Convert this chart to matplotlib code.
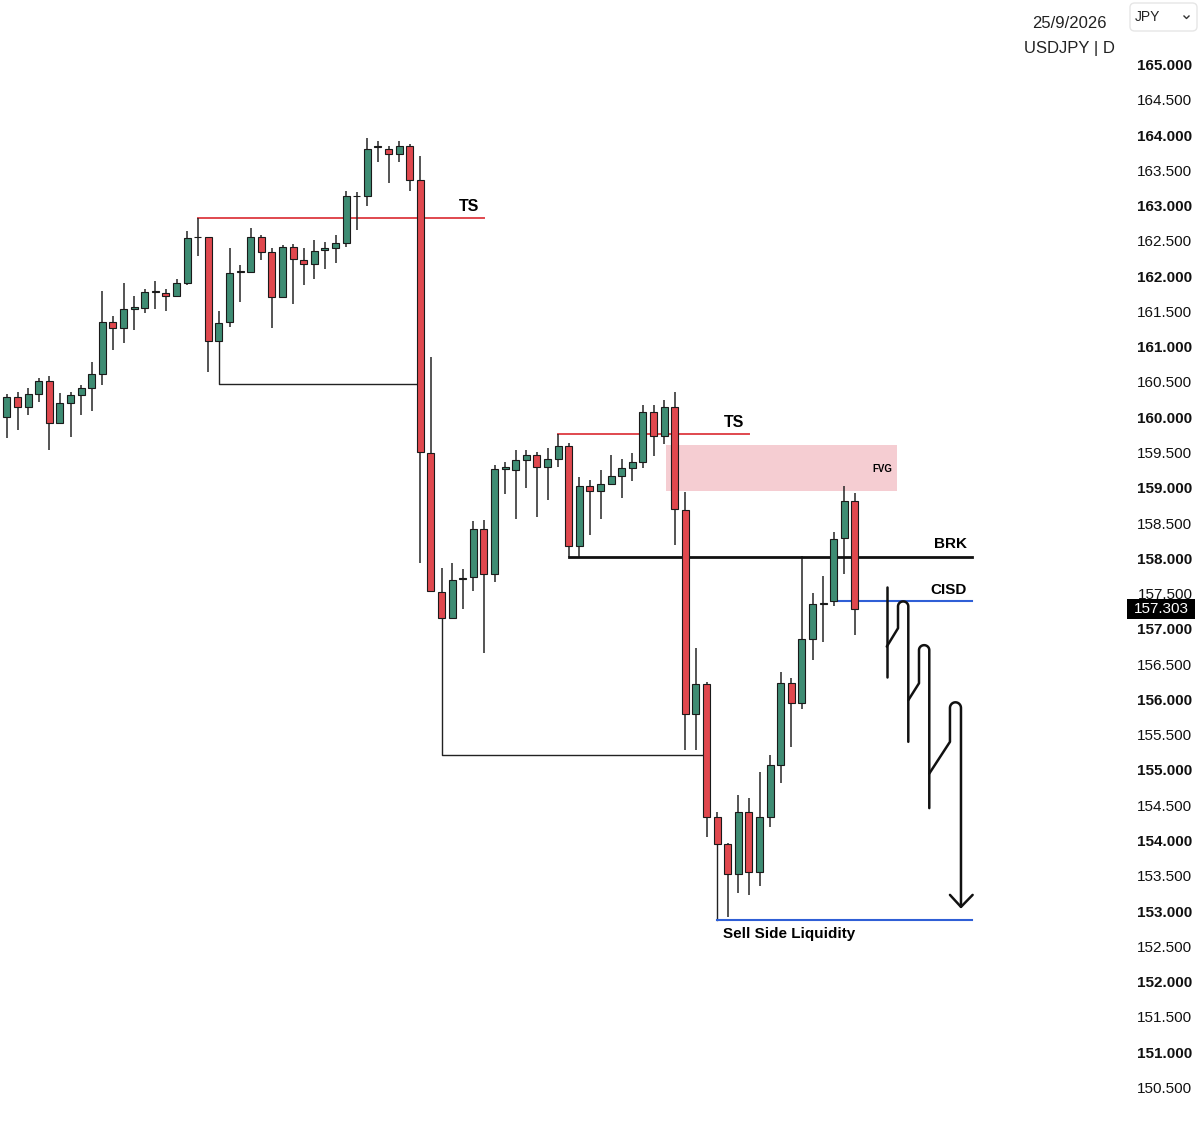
import numpy as np
import matplotlib
matplotlib.use('Agg')
import matplotlib.pyplot as plt
from matplotlib.patches import Rectangle, FancyBboxPatch
from matplotlib.lines import Line2D
from matplotlib.transforms import blended_transform_factory

plt.rcParams['font.family'] = ['Liberation Sans', 'DejaVu Sans']

# USDJPY daily candles
opens = [160.02, 160.31, 160.17, 160.35, 160.54, 159.94, 160.22, 160.33, 160.44, 160.64,
         161.37, 161.28, 161.56, 161.57, 161.79, 161.78, 161.74, 161.92, 162.57, 162.57,
         161.10, 161.37, 162.08, 162.08, 162.58, 162.36, 161.72, 162.44, 162.25, 162.19,
         162.39, 162.42, 162.49, 163.15, 163.15, 163.85, 163.83, 163.75, 163.86, 163.39,
         159.52, 157.54, 157.17, 157.73, 157.75, 158.43, 157.80, 159.29, 159.27, 159.42,
         159.48, 159.31, 159.43, 159.61, 158.19, 159.05, 158.98, 159.08, 159.19, 159.30,
         159.38, 160.10, 159.75, 160.16, 158.71, 155.81, 156.24, 154.35, 153.97, 153.54,
         154.42, 153.58, 154.35, 155.09, 156.25, 155.97, 156.88, 157.37, 157.41, 158.31,
         158.84]
highs = [160.35, 160.38, 160.44, 160.57, 160.60, 160.37, 160.38, 160.48, 160.80, 161.81,
         161.45, 161.92, 161.74, 161.84, 161.95, 161.84, 161.98, 162.66, 162.84, 162.58,
         161.52, 162.42, 162.18, 162.70, 162.61, 162.42, 162.46, 162.47, 162.42, 162.54,
         162.51, 162.61, 163.23, 163.22, 163.98, 163.94, 163.86, 163.94, 163.89, 163.73,
         160.88, 157.88, 157.96, 157.87, 158.55, 158.57, 159.35, 159.39, 159.55, 159.56,
         159.53, 159.59, 159.79, 159.65, 159.17, 159.13, 159.27, 159.48, 159.43, 159.52,
         160.19, 160.19, 160.27, 160.38, 158.96, 156.75, 156.27, 154.42, 153.99, 154.67,
         154.62, 154.99, 155.23, 156.41, 156.32, 158.05, 157.53, 157.77, 158.40, 159.04,
         158.95]
lows = [159.73, 159.84, 160.05, 160.24, 159.55, 159.93, 159.74, 160.05, 160.11, 160.48,
        160.98, 161.08, 161.26, 161.50, 161.55, 161.53, 161.72, 161.90, 162.30, 160.66,
        161.10, 161.30, 161.66, 162.07, 162.25, 161.29, 161.71, 161.62, 161.90, 161.98,
        162.12, 162.20, 162.43, 162.68, 163.01, 163.64, 163.34, 163.64, 163.23, 157.96,
        157.55, 157.17, 157.17, 157.30, 157.56, 156.68, 157.69, 158.93, 158.58, 159.02,
        158.60, 158.85, 159.31, 158.04, 158.02, 158.35, 158.58, 159.06, 158.88, 159.12,
        159.30, 159.47, 159.64, 158.21, 155.30, 155.30, 154.07, 153.97, 152.93, 153.28,
        153.25, 153.38, 154.21, 154.84, 155.34, 155.88, 156.58, 156.83, 157.34, 157.80,
        156.94]
closes = [160.31, 160.17, 160.35, 160.54, 159.94, 160.22, 160.33, 160.44, 160.64, 161.37,
          161.28, 161.55, 161.58, 161.79, 161.81, 161.74, 161.92, 162.56, 162.58, 161.10,
          161.36, 162.07, 162.10, 162.58, 162.37, 161.72, 162.44, 162.26, 162.19, 162.38,
          162.42, 162.49, 163.16, 163.16, 163.83, 163.86, 163.75, 163.86, 163.39, 159.53,
          157.56, 157.17, 157.72, 157.74, 158.43, 157.80, 159.29, 159.31, 159.42, 159.48,
          159.31, 159.43, 159.61, 158.19, 159.05, 158.98, 159.08, 159.19, 159.30, 159.38,
          160.10, 159.75, 160.16, 158.72, 155.81, 156.24, 154.35, 153.97, 153.54, 154.42,
          153.58, 154.35, 155.09, 156.25, 155.97, 156.88, 157.37, 157.39, 158.29, 158.84,
          157.303]

price_ticks = [165.0 - 0.5 * k for k in range(30)]
last_price = 157.303

# markup levels: (start bar, end bar, price)
ts_lines = [(18, 45, 162.84), (52, 70, 159.79)]
brk_level = (53, 91.04, 158.045)
cisd_level = (78, 91.04, 157.41)
ssl_level = (67, 91.04, 152.895)
fvg_zone = (62.17, 83.96, 158.975, 159.63)
# L shaped liquidity lines: (bar, from price, down to price, end bar)
liq_lines = [(20, 161.10, 160.49, 38.65), (41, 157.17, 155.235, 65.65)]

green = '#3e8c73'
red = '#e0484e'
blue = '#2f5fd6'

fig = plt.figure(figsize=(12, 11.27), dpi=100)
ax = fig.add_axes([0, 0, 1, 1])
ax.set_xlim(-0.66, 112.55)
ax.set_ylim(149.96, 165.935)
ax.axis('off')

o = np.array(opens)
h = np.array(highs)
l = np.array(lows)
c = np.array(closes)
idx = np.arange(len(o))
cols = np.where(c >= o, green, red)

ax.vlines(idx, l, h, color='#262626', lw=1.1, zorder=2)
ax.bar(idx, np.maximum(np.abs(c - o), 0.012), bottom=np.minimum(o, c), width=0.66,
       color=cols, edgecolor='#1a1a1a', linewidth=0.8, zorder=3)

# FVG box
ax.add_patch(Rectangle((fvg_zone[0], fvg_zone[2]), fvg_zone[1] - fvg_zone[0],
                       fvg_zone[3] - fvg_zone[2], facecolor='#f5cdd2', edgecolor='none', zorder=1))
ax.text(82.55, 159.29, 'FVG', fontsize=7, fontweight='bold', ha='center', va='center', zorder=5)

# TS lines
for x0, x1, p in ts_lines:
    ax.plot([x0, x1], [p, p], color=red, lw=1.4, zorder=1.5)
ax.text(43.6, 163.01, 'TS', fontsize=11.5, fontweight='bold', ha='center', va='center')
ax.text(68.6, 159.95, 'TS', fontsize=11.5, fontweight='bold', ha='center', va='center')

# liquidity L lines
for xb, p0, p1, xe in liq_lines:
    ax.plot([xb, xb, xe], [p0, p1, p1], color='#222222', lw=1.0, zorder=1.5)
ax.plot([67, 67], [153.97, ssl_level[2]], color='#222222', lw=1.0, zorder=1.5)

# BRK / CISD / SSL
ax.plot(brk_level[:2], [brk_level[2]] * 2, color='#111111', lw=2.0, zorder=2.5)
ax.plot(cisd_level[:2], [cisd_level[2]] * 2, color=blue, lw=1.5, zorder=2.5)
ax.plot(ssl_level[:2], [ssl_level[2]] * 2, color=blue, lw=1.5, zorder=2.5)
ax.text(90.57, 158.225, 'BRK', fontsize=11, fontweight='bold', ha='right', va='center')
ax.text(90.57, 157.573, 'CISD', fontsize=11, fontweight='bold', ha='right', va='center')
ax.text(67.55, 152.70, 'Sell Side Liquidity', fontsize=11, fontweight='bold', ha='left', va='center')

# projected path drawing
def hump(xl, xr, base, top):
    t = np.linspace(np.pi, 0, 20)
    xc = (xl + xr) / 2
    return xc + (xr - xl) / 2 * np.cos(t), base + (top - base) * np.sin(t)

legs = [
    # diag start, diag end / hump left, hump base, hump top, hump right, end price
    ((83.0, 156.77), (84.06, 157.03), 157.34, 157.41, 85.03, 155.42),
    ((85.03, 156.01), (86.04, 156.25), 156.72, 156.79, 87.01, 154.48),
    ((87.01, 154.97), (88.96, 155.42), 155.90, 155.98, 90.0, 153.08),
]
pen = dict(color='#111111', lw=1.8, solid_capstyle='round', solid_joinstyle='round', zorder=4)
ax.plot([83.0, 83.0], [157.62, 156.34], **pen)
for (sx, sy), (dx, dy), base, top, rx, endp in legs:
    hx, hy = hump(dx, rx, base, top)
    xs = np.concatenate([[sx, dx], hx, [rx]])
    ys = np.concatenate([[sy, dy], hy, [endp]])
    ax.plot(xs, ys, **pen)
ax.plot([88.96, 90.0, 91.1], [153.25, 153.08, 153.25], **pen)

# price scale
tr = blended_transform_factory(ax.transAxes, ax.transData)
for p in price_ticks:
    whole = abs(p - round(p)) < 1e-9
    ax.text(1192.5 / 1200, p, f'{p:.3f}', transform=tr, ha='right', va='center',
            fontsize=11, fontweight='bold' if whole else 'normal', color='#111111', zorder=6)

# last price tag
box_h = 20 / 70.55
ax.add_patch(Rectangle((1127 / 1200, last_price - box_h / 2), 68 / 1200, box_h,
                       transform=tr, facecolor='black', edgecolor='none', zorder=7))
ax.text(1161 / 1200, last_price, f'{last_price:.3f}', transform=tr, ha='center', va='center',
        fontsize=11, color='white', zorder=8)

# header
fig.text(1069 / 1200, 1 - 23 / 1127, '25/9/2026', ha='center', va='center', fontsize=12, color='#222222')
fig.text(1069 / 1200, 1 - 48 / 1127, 'USDJPY | D', ha='center', va='center', fontsize=12, color='#222222')
fig.patches.append(FancyBboxPatch((1130 / 1200, 1 - 31 / 1127), 67 / 1200, 28 / 1127,
                                  boxstyle='round,pad=0,rounding_size=0.004', transform=fig.transFigure,
                                  facecolor='white', edgecolor='#e6e6e6', lw=1.0))
fig.text(1135 / 1200, 1 - 17 / 1127, 'JPY', ha='left', va='center', fontsize=10, color='#222222')
fig.add_artist(Line2D(np.array([1184, 1186.5, 1189]) / 1200, 1 - np.array([16, 18.5, 16]) / 1127,
                      transform=fig.transFigure, color='#333333', lw=1.0))

plt.savefig('out.png', dpi=100, facecolor='white')
